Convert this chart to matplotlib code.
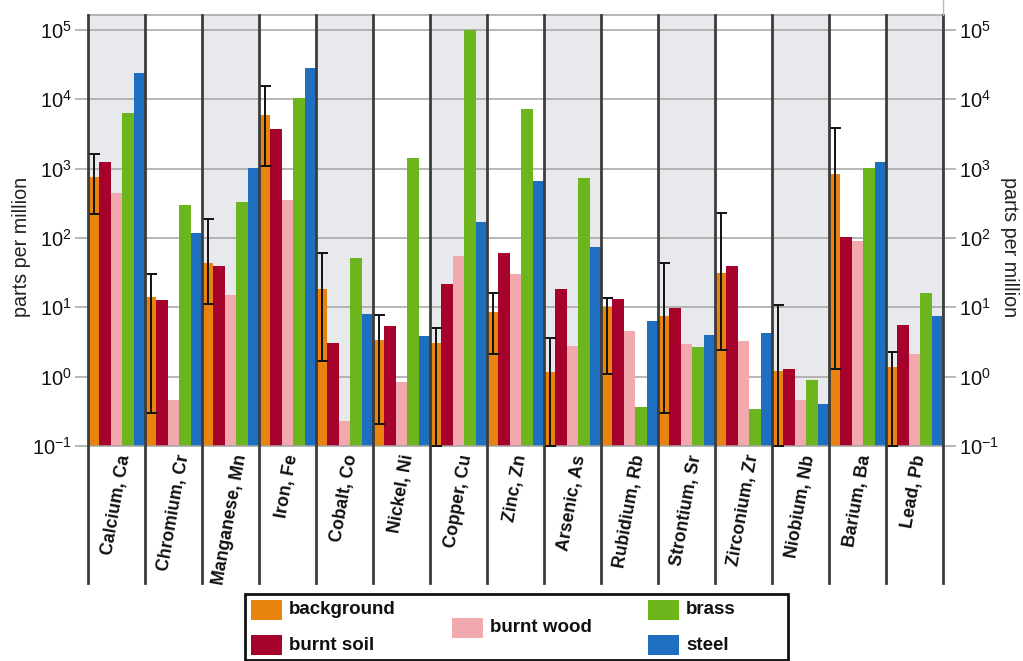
import matplotlib
matplotlib.use("Agg")
import matplotlib.pyplot as plt
import numpy as np
from matplotlib.patches import Rectangle
from matplotlib.lines import Line2D
from matplotlib.ticker import FixedLocator, FuncFormatter, NullLocator

plt.rcParams['font.family'] = ['Liberation Sans', 'DejaVu Sans']
plt.rcParams['mathtext.fontset'] = 'custom'
plt.rcParams['mathtext.rm'] = 'Liberation Sans'
plt.rcParams['mathtext.it'] = 'Liberation Sans'

# ---- data -------------------------------------------------------------
elements = ["Calcium, Ca", "Chromium, Cr", "Manganese, Mn", "Iron, Fe",
            "Cobalt, Co", "Nickel, Ni", "Copper, Cu", "Zinc, Zn",
            "Arsenic, As", "Rubidium, Rb", "Strontium, Sr", "Zirconium, Zr",
            "Niobium, Nb", "Barium, Ba", "Lead, Pb"]

series_names = ["background", "burnt soil", "burnt wood", "brass", "steel"]

background = [760, 14.3, 44, 5940, 18.2, 3.38, 3.03, 8.5, 1.18, 10, 7.5, 31.6, 1.21, 837, 1.36]
background_high = [1610, 30.3, 186, 15600, 60, 7.8, 5.1, 15.9, 3.65, 13.5, 43, 227, 10.8, 3900, 2.24]
background_low = [219, 0.296, 11.2, 1100, 1.70, 0.205, 0.1, 2.1, 0.1, 1.08, 0.30, 2.42, 0.1, 1.29, 0.1]
burnt_soil = [1234, 12.8, 40, 3770, 3.03, 5.4, 21.5, 61, 18.2, 13.2, 9.8, 39.5, 1.28, 102, 5.6]
burnt_wood = [441, 0.46, 15, 353, 0.232, 0.845, 55, 30, 2.77, 4.55, 2.96, 3.27, 0.46, 90.6, 2.1]
brass = [6280, 299, 334, 10300, 51, 1410, 100000, 7260, 726, 0.37, 2.7, 0.34, 0.91, 1030, 16]
steel = [23700, 119, 1010, 28600, 8.0, 3.86, 172, 664, 73, 6.35, 3.99, 4.2, 0.40, 1234, 7.6]

decades = [1e-1, 1e0, 1e1, 1e2, 1e3, 1e4, 1e5]

# ---- style ------------------------------------------------------------
colors = ["#E8830F", "#A6022B", "#F2A9AE", "#6DB51D", "#1E6FBF"]
shade = "#E8E9EC"
grid_col = "#A3A3A3"
sep_col = "#3C3C3C"

W, H = 1023, 661
fig = plt.figure(figsize=(W / 100, H / 100), dpi=100)


def fx(px):
    return px / W


def fy(py):
    return (H - py) / H


ax = fig.add_axes([fx(88), fy(446), fx(943) - fx(88), fy(15) - fy(446)])
ax.set_yscale("log")
ax.set_xlim(-0.5, len(elements) - 0.5)
ax.set_ylim(0.1, 10 ** 5.216)

# alternating shaded columns
for i in range(0, len(elements), 2):
    ax.axvspan(i - 0.5, i + 0.5, color=shade, zorder=0, lw=0)

# horizontal grid at each decade
ax.set_axisbelow(True)
ax.yaxis.set_major_locator(FixedLocator(decades))
ax.yaxis.set_minor_locator(NullLocator())
ax.yaxis.grid(True, color=grid_col, lw=1.1, zorder=0.5)
ax.yaxis.set_major_formatter(
    FuncFormatter(lambda v, p: r"10$^{%d}$" % round(np.log10(v))))
ax.tick_params(axis="y", which="major", direction="out", length=9.5, width=1.1,
               color=grid_col, labelsize=14.5, pad=2, left=True, right=True,
               labelleft=True, labelright=True, labelcolor="#111111")
ax.set_xticks([])

ax.spines["left"].set_visible(False)
for side in ("top", "bottom", "right"):
    ax.spines[side].set_color(grid_col)
    ax.spines[side].set_linewidth(1.1)

# bars
x = np.arange(len(elements))
bw = 0.2
all_series = [background, burnt_soil, burnt_wood, brass, steel]
for k, (vals, col) in enumerate(zip(all_series, colors)):
    ax.bar(x + (k - 2) * bw, vals, width=bw, color=col, align="center",
           zorder=2, lw=0)

# background range
bg = np.array(background)
yerr = np.vstack([bg - np.array(background_low), np.array(background_high) - bg])
ax.errorbar(x - 2 * bw, bg, yerr=yerr, fmt="none", ecolor="#111111",
            elinewidth=1.4, capsize=4, capthick=1.4, zorder=3, clip_on=False)

# column separators reaching down into the label band
ext = (446 - 583) / (446 - 15)
for b in np.arange(-0.5, len(elements), 1.0):
    ax.axvline(b, ymin=ext, ymax=1, color=sep_col, lw=2.0, zorder=4, clip_on=False)

# short axis stub above the right edge
fig.add_artist(Line2D([fx(943), fx(943)], [fy(15), fy(0)], color="#BBBBBB", lw=1.0))

# element labels
for i, name in enumerate(elements):
    ax.text(i, -0.017, name, transform=ax.get_xaxis_transform(), rotation=80,
            ha="center", va="top", fontsize=12.7, fontweight="bold", color="#111111")

# axis titles
fig.text(fx(22), fy(247), "parts per million", rotation=90, ha="center", va="center",
         fontsize=14.2, color="#222222")
fig.text(fx(1009), fy(247), "parts per million", rotation=270, ha="center", va="center",
         fontsize=14.2, color="#222222")

# legend box
fig.add_artist(Rectangle((fx(245), fy(660)), fx(788) - fx(245), fy(594) - fy(660),
                         transform=fig.transFigure, facecolor="white",
                         edgecolor="#111111", lw=2.0))
legend_slots = [(251, 600), (251, 635), (452, 618), (648, 600), (648, 635)]
for (px, py), name, col in zip(legend_slots, series_names, colors):
    fig.add_artist(Rectangle((fx(px), fy(py + 20)), fx(px + 31) - fx(px), fy(py) - fy(py + 20),
                             transform=fig.transFigure, facecolor=col, edgecolor="none"))
    fig.text(fx(px + 38), fy(py + 10), name, ha="left", va="center",
             fontsize=13.5, fontweight="bold", color="#111111")

fig.savefig("out.png", dpi=100)
